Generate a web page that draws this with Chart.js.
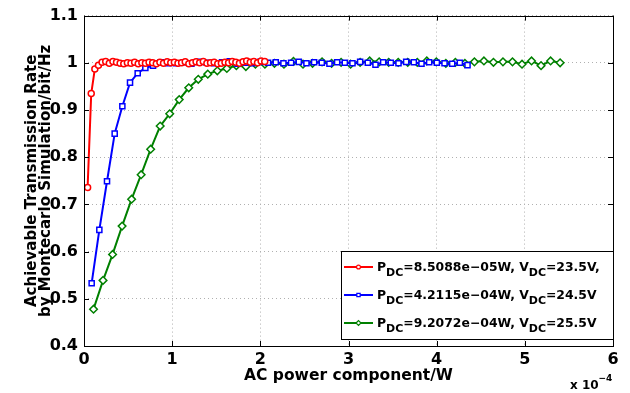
<!DOCTYPE html>
<html>
<head>
<meta charset="utf-8">
<script src="https://cdn.jsdelivr.net/npm/chart.js@4.4.1/dist/chart.umd.min.js"></script>
<style>
  body { margin: 0; background: #fff; }
  canvas { display: block; }
</style>
</head>
<body>
<canvas id="rateChart" width="630" height="393"></canvas>
<script>
const FONT = "'DejaVu Sans', sans-serif";

const xTickLabels = ['0', '1', '2', '3', '4', '5', '6'];
const yTickLabels = ['0.4', '0.5', '0.6', '0.7', '0.8', '0.9', '1', '1.1'];

// AC power component, in units of 1e-4 W
const redPower = [0.041, 0.082, 0.123, 0.164, 0.205, 0.246, 0.287, 0.328, 0.369, 0.41,
  0.451, 0.492, 0.533, 0.574, 0.615, 0.656, 0.697, 0.738, 0.779, 0.82,
  0.861, 0.902, 0.943, 0.984, 1.025, 1.066, 1.107, 1.148, 1.189, 1.23,
  1.271, 1.312, 1.353, 1.394, 1.435, 1.476, 1.517, 1.558, 1.599, 1.64,
  1.681, 1.722, 1.763, 1.804, 1.845, 1.886, 1.927, 1.968, 2.009, 2.05];
const redRate = [0.736, 0.935, 0.987, 0.995, 1.001, 1.003, 0.999, 1.003, 1.001, 0.999,
  0.998, 1.000, 0.999, 1.001, 0.998, 1.000, 0.999, 1.001, 1.000, 0.998,
  1.001, 0.999, 1.002, 1.000, 1.001, 0.999, 1.000, 1.002, 0.998, 1.000,
  1.002, 1.000, 1.003, 0.999, 1.000, 1.001, 0.998, 0.999, 1.001, 1.000,
  1.003, 1.001, 0.999, 1.002, 1.004, 1.001, 1.003, 1.000, 1.004, 1.003];

const bluePower = [0.087, 0.174, 0.261, 0.348, 0.435, 0.522, 0.609, 0.696, 0.783, 0.87,
  0.957, 1.044, 1.131, 1.218, 1.305, 1.392, 1.479, 1.566, 1.653, 1.74,
  1.827, 1.914, 2.001, 2.088, 2.175, 2.262, 2.349, 2.436, 2.523, 2.61,
  2.697, 2.784, 2.871, 2.958, 3.045, 3.132, 3.219, 3.306, 3.393, 3.48,
  3.567, 3.654, 3.741, 3.828, 3.915, 4.002, 4.089, 4.176, 4.263, 4.35];
const blueRate = [0.533, 0.646, 0.749, 0.850, 0.908, 0.958, 0.978, 0.989, 0.994, 1.001,
  0.999, 0.999, 1.001, 0.998, 1.002, 1.000, 0.999, 1.001, 1.003, 0.998,
  1.000, 0.999, 1.002, 1.000, 1.001, 0.999, 1.000, 1.002, 0.999, 1.001,
  1.000, 0.998, 1.001, 1.000, 0.999, 1.002, 1.000, 0.996, 1.001, 1.000,
  0.999, 1.002, 1.001, 0.998, 1.001, 1.000, 0.999, 0.998, 1.000, 0.995];

const greenPower = [0.108, 0.216, 0.324, 0.432, 0.54, 0.648, 0.756, 0.864, 0.972, 1.08,
  1.188, 1.296, 1.404, 1.512, 1.62, 1.728, 1.836, 1.944, 2.052, 2.16,
  2.268, 2.376, 2.484, 2.592, 2.7, 2.808, 2.916, 3.024, 3.132, 3.24,
  3.348, 3.456, 3.564, 3.672, 3.78, 3.888, 3.996, 4.104, 4.212, 4.32,
  4.428, 4.536, 4.644, 4.752, 4.86, 4.968, 5.076, 5.184, 5.292, 5.4];
const greenRate = [0.478, 0.539, 0.594, 0.654, 0.711, 0.763, 0.817, 0.866, 0.892, 0.922,
  0.947, 0.965, 0.976, 0.983, 0.988, 0.994, 0.992, 0.997, 0.997, 0.999,
  0.997, 1.003, 0.997, 0.999, 1.002, 0.999, 1.001, 0.997, 1.001, 1.004,
  1.002, 1.001, 1.001, 1.001, 1.001, 1.004, 1.002, 0.999, 1.001, 0.999,
  1.002, 1.004, 1.001, 1.002, 1.002, 0.997, 1.004, 0.994, 1.004, 1.000];

const seriesColors = ['#ff0000', '#0000ff', '#008000'];
const markerStyles = ['circle', 'rect', 'rectRot'];
const markerSizes = [3, 3.6, 3.8];

// legend entries: even pieces are normal text, odd pieces are subscripts
const legendParts = [
  ['P', 'DC', '=8.5088e\u221205W, V', 'DC', '=23.5V,'],
  ['P', 'DC', '=4.2115e\u221204W, V', 'DC', '=24.5V'],
  ['P', 'DC', '=9.2072e\u221204W, V', 'DC', '=25.5V']
];

function toPoints(xs, ys) {
  return xs.map((x, i) => ({ x: x, y: ys[i] }));
}

const series = [
  toPoints(redPower, redRate),
  toPoints(bluePower, blueRate),
  toPoints(greenPower, greenRate)
];

const datasets = series.map((pts, i) => ({
  data: pts,
  borderColor: seriesColors[i],
  borderWidth: 2,
  pointStyle: markerStyles[i],
  pointRadius: markerSizes[i],
  pointBorderWidth: 1.5,
  pointBorderColor: seriesColors[i],
  pointBackgroundColor: '#ffffff',
  tension: 0
}));

// box, inward tick marks and the exponent note
const axesFrame = {
  id: 'axesFrame',
  afterDraw(chart) {
    const { ctx, chartArea: a, scales: { x, y } } = chart;
    ctx.save();
    ctx.strokeStyle = '#000';
    ctx.lineWidth = 1;
    ctx.beginPath();
    x.ticks.forEach(t => {
      const px = Math.round(x.getPixelForValue(t.value)) + 0.5;
      ctx.moveTo(px, a.bottom);
      ctx.lineTo(px, a.bottom - 5);
      ctx.moveTo(px, a.top);
      ctx.lineTo(px, a.top + 5);
    });
    y.ticks.forEach(t => {
      const py = Math.round(y.getPixelForValue(t.value)) + 0.5;
      ctx.moveTo(a.left, py);
      ctx.lineTo(a.left + 5, py);
      ctx.moveTo(a.right, py);
      ctx.lineTo(a.right - 5, py);
    });
    ctx.stroke();
    ctx.strokeRect(Math.round(a.left) + 0.5, Math.round(a.top) + 0.5,
      Math.round(a.right - a.left), Math.round(a.bottom - a.top));

    ctx.fillStyle = '#000';
    ctx.textAlign = 'left';
    ctx.textBaseline = 'alphabetic';
    ctx.font = 'bold 12px ' + FONT;
    ctx.fillText('x 10', 570, 389);
    ctx.font = 'bold 9px ' + FONT;
    ctx.fillText('\u22124', 598.5, 381);
    ctx.restore();
  }
};

const legendBox = {
  id: 'legendBox',
  afterDraw(chart) {
    const { ctx, chartArea: a } = chart;
    const left = 341, top = 251, right = Math.round(a.right), bottom = 339;
    ctx.save();
    ctx.fillStyle = '#fff';
    ctx.fillRect(left, top, right - left, bottom - top);
    ctx.strokeStyle = '#000';
    ctx.lineWidth = 1;
    ctx.strokeRect(left + 0.5, top + 0.5, right - left, bottom - top);

    legendParts.forEach((parts, i) => {
      const rowY = top + 16 + i * 28;
      const color = seriesColors[i];
      ctx.strokeStyle = color;
      ctx.lineWidth = 2;
      ctx.beginPath();
      ctx.moveTo(344, rowY);
      ctx.lineTo(373, rowY);
      ctx.stroke();
      ctx.lineWidth = 1.2;
      ctx.fillStyle = '#fff';
      Chart.helpers.drawPoint(ctx, {
        pointStyle: markerStyles[i],
        radius: markerSizes[i] * 0.65,
        rotation: 0,
        borderWidth: 1.2
      }, 358.5, rowY);

      ctx.fillStyle = '#000';
      ctx.textAlign = 'left';
      ctx.textBaseline = 'alphabetic';
      let tx = 377;
      parts.forEach((txt, k) => {
        const sub = k % 2 === 1;
        ctx.font = 'bold ' + (sub ? 11 : 12.4) + 'px ' + FONT;
        ctx.fillText(txt, tx, rowY + (sub ? 8.5 : 3.5));
        tx += ctx.measureText(txt).width;
      });
    });
    ctx.restore();
  }
};

const tickFont = { family: FONT, size: 16, weight: 'bold' };

new Chart(document.getElementById('rateChart'), {
  type: 'line',
  data: { datasets: datasets },
  plugins: [axesFrame, legendBox],
  options: {
    responsive: false,
    animation: false,
    layout: { padding: { top: 10, right: 17, left: 0, bottom: 0 } },
    plugins: {
      legend: { display: false },
      tooltip: { enabled: false }
    },
    scales: {
      x: {
        type: 'linear',
        min: 0,
        max: 6,
        ticks: {
          stepSize: 1,
          padding: 4,
          color: '#000',
          font: tickFont,
          maxRotation: 0,
          callback: (v, i) => xTickLabels[i]
        },
        grid: { color: '#b0b0b0', drawTicks: false },
        border: { display: false, dash: [1, 3] },
        title: {
          display: true,
          text: 'AC power component/W',
          color: '#000',
          font: { family: FONT, size: 15.5, weight: 'bold' },
          padding: { top: 0, bottom: 8 }
        },
        afterFit(scale) { scale.height = 47; }
      },
      y: {
        type: 'linear',
        min: 0.4,
        max: 1.1,
        ticks: {
          stepSize: 0.1,
          padding: 6,
          color: '#000',
          font: tickFont,
          callback: (v, i) => yTickLabels[i]
        },
        grid: { color: '#b0b0b0', drawTicks: false },
        border: { display: false, dash: [1, 3] },
        title: {
          display: true,
          text: ['Achievable Transmission Rate', 'by Montecarlo Simulation/bit/Hz'],
          color: '#000',
          font: { family: FONT, size: 15, weight: 'bold', lineHeight: 0.94 },
          padding: { top: 25, bottom: 0 }
        },
        afterFit(scale) { scale.width = 84; }
      }
    }
  }
});
</script>
</body>
</html>
